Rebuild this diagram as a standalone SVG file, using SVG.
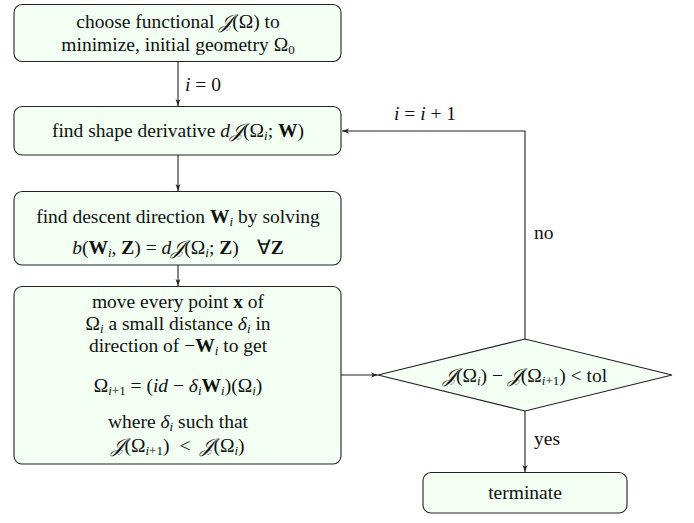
<svg xmlns="http://www.w3.org/2000/svg" width="694" height="523" viewBox="0 0 694 523">
<style>
.box{fill:#f2fff2;stroke:#222;stroke-width:1.1}
.t{font-family:"Liberation Serif","Times New Roman",serif;font-size:19.5px;fill:#111;text-anchor:middle}
.l{font-family:"Liberation Serif","Times New Roman",serif;font-size:19.5px;fill:#111}
.i{font-style:italic}
.b{font-weight:bold}
.s{font-size:13px}
.c{fill:none;stroke:#222;stroke-width:1.1}
</style>
<defs>
<marker id="ah" viewBox="0 0 10 10" refX="10" refY="5" markerWidth="7" markerHeight="7" markerUnits="userSpaceOnUse" orient="auto">
<path d="M0,1.5 L10,5 L0,8.5 L2.5,5 Z" fill="#222"/>
</marker>
</defs>
<g id="connectors">
<line class="c" x1="178" y1="61" x2="178" y2="106" marker-end="url(#ah)"/>
<line class="c" x1="178" y1="155" x2="178" y2="191" marker-end="url(#ah)"/>
<line class="c" x1="178" y1="265" x2="178" y2="286" marker-end="url(#ah)"/>
<line class="c" x1="341" y1="375" x2="378" y2="375" marker-end="url(#ah)"/>
<polyline class="c" points="525,339 525,131 342,131" marker-end="url(#ah)"/>
<line class="c" x1="525" y1="411" x2="525" y2="472" marker-end="url(#ah)"/>
<text class="l" x="185" y="91"><tspan class="i">i</tspan> = 0</text>
<text class="l" x="394" y="120"><tspan class="i">i</tspan> = <tspan class="i">i</tspan> + 1</text>
<text class="l" x="534" y="239">no</text>
<text class="l" x="534" y="445">yes</text>
</g>
<g id="start">
<rect class="box" x="14" y="4.5" width="327" height="57" rx="8"/>
<text class="t" x="178" y="28">choose functional <tspan class="i">𝒥</tspan>(Ω) to</text>
<text class="t" x="178" y="51">minimize, initial geometry Ω<tspan class="s" dy="3">0</tspan></text>
</g>
<g id="derivative">
<rect class="box" x="14" y="106.5" width="327" height="48.5" rx="8"/>
<text class="t" x="178" y="137">find shape derivative <tspan class="i">d𝒥</tspan>(Ω<tspan class="s i" dy="3">i</tspan><tspan dy="-3">; </tspan><tspan class="b">W</tspan>)</text>
</g>
<g id="descent">
<rect class="box" x="14" y="191.5" width="327" height="73.5" rx="8"/>
<text class="t" x="178" y="223">find descent direction <tspan class="b">W</tspan><tspan class="s i" dy="3">i</tspan><tspan dy="-3"> by solving</tspan></text>
<text class="t" x="178" y="254"><tspan class="i">b</tspan>(<tspan class="b">W</tspan><tspan class="s i" dy="3">i</tspan><tspan dy="-3">, </tspan><tspan class="b">Z</tspan>) = <tspan class="i">d𝒥</tspan>(Ω<tspan class="s i" dy="3">i</tspan><tspan dy="-3">; </tspan><tspan class="b">Z</tspan>)<tspan dx="18">∀</tspan><tspan class="b">Z</tspan></text>
</g>
<g id="move">
<rect class="box" x="14" y="286.5" width="327" height="177.5" rx="8"/>
<text class="t" x="178" y="308">move every point <tspan class="b">x</tspan> of</text>
<text class="t" x="178" y="330">Ω<tspan class="s i" dy="3">i</tspan><tspan dy="-3"> a small distance </tspan><tspan class="i">δ</tspan><tspan class="s i" dy="3">i</tspan><tspan dy="-3"> in</tspan></text>
<text class="t" x="178" y="352">direction of −<tspan class="b">W</tspan><tspan class="s i" dy="3">i</tspan><tspan dy="-3"> to get</tspan></text>
<text class="t" x="178" y="392">Ω<tspan class="s" dy="3"><tspan class="i">i</tspan>+1</tspan><tspan dy="-3"> = (</tspan><tspan class="i">id</tspan> − <tspan class="i">δ</tspan><tspan class="s i" dy="3">i</tspan><tspan class="b" dy="-3">W</tspan><tspan class="s i" dy="3">i</tspan><tspan dy="-3">)(Ω</tspan><tspan class="s i" dy="3">i</tspan><tspan dy="-3">)</tspan></text>
<text class="t" x="178" y="428">where <tspan class="i">δ</tspan><tspan class="s i" dy="3">i</tspan><tspan dy="-3"> such that</tspan></text>
<text class="t" x="178" y="452"><tspan class="i">𝒥</tspan>(Ω<tspan class="s" dy="3"><tspan class="i">i</tspan>+1</tspan><tspan dy="-3">)</tspan><tspan dx="10">&lt;</tspan><tspan dx="10" class="i">𝒥</tspan>(Ω<tspan class="s i" dy="3">i</tspan><tspan dy="-3">)</tspan></text>
</g>
<g id="decision">
<polygon class="box" points="378,375 525,339 672,375 525,411"/>
<text class="t" x="525" y="382"><tspan class="i">𝒥</tspan>(Ω<tspan class="s i" dy="3">i</tspan><tspan dy="-3">) − </tspan><tspan class="i">𝒥</tspan>(Ω<tspan class="s" dy="3"><tspan class="i">i</tspan>+1</tspan><tspan dy="-3">) &lt; tol</tspan></text>
</g>
<g id="terminate">
<rect class="box" x="423" y="472.5" width="204" height="40.5" rx="8"/>
<text class="t" x="525" y="499">terminate</text>
</g>
</svg>
